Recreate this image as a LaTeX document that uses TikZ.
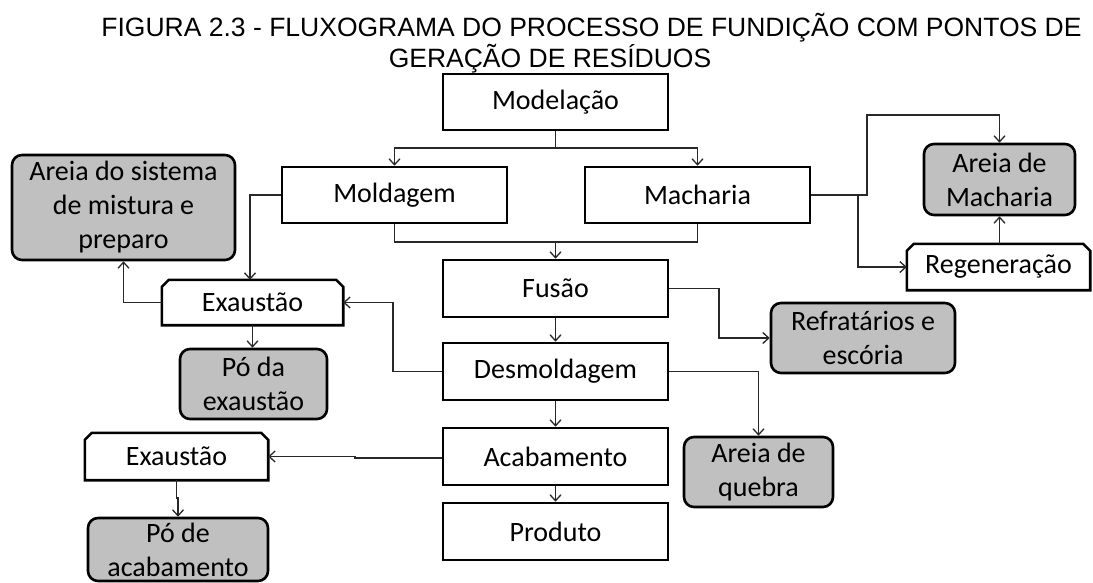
\documentclass[tikz,border=0pt]{standalone}
\usepackage{fontspec}
\setmainfont{Carlito}
\newfontfamily\titlefont{Liberation Sans}
\usetikzlibrary{arrows.meta,calc}
\definecolor{resgray}{RGB}{192,192,192}
\definecolor{linegray}{RGB}{40,40,40}
\newcommand\chamferbox[1]{%
  \draw[procline] (#1.south west) -- ([yshift=-7pt]#1.north west) -- ([xshift=7pt]#1.north west)
    -- ([xshift=-7pt]#1.north east) -- ([yshift=-7pt]#1.north east) -- (#1.south east) -- cycle;}
\begin{document}
\begin{tikzpicture}[x=1pt,y=-1pt,
  bodyfont/.style={font=\fontsize{28}{34}\selectfont},
  procline/.style={draw=black, line width=2.6pt, line join=miter},
  procbox/.style={procline, fill=white, inner sep=0pt, bodyfont, align=center},
  chamf/.style={inner sep=0pt, bodyfont, align=center},
  resbox/.style={procline, fill=resgray, rounded corners=10pt, inner sep=0pt, bodyfont, align=center},
  conn/.style={draw=linegray, line width=1.3pt},
  arr/.style={conn, -{Straight Barb[length=6pt,width=11pt]}}]
\useasboundingbox (0,0) rectangle (1093,583);

% title
\node[anchor=base, font=\titlefont\fontsize{26.5}{30}\selectfont, inner sep=0pt] (t1) at (591.5,37)
  {FIGURA 2.3 - FLUXOGRAMA DO PROCESSO DE FUNDIÇÃO COM PONTOS DE};
\node[anchor=base, font=\titlefont\fontsize{26.5}{30}\selectfont, inner sep=0pt] (t2) at (550,68)
  {GERAÇÃO DE RESÍDUOS};

% process boxes
\node[procbox, minimum width=225pt, minimum height=56pt] (mod)  at (555.5,102)   {Modelação};
\node[procbox, minimum width=225pt, minimum height=56pt] (mold) at (394.5,195)   {Moldagem};
\node[procbox, minimum width=225pt, minimum height=56pt] (mach) at (697.5,195)   {Macharia};
\node[procbox, minimum width=225pt, minimum height=57pt] (fus)  at (555.5,288.5) {Fusão};
\node[procbox, minimum width=225pt, minimum height=57pt] (desm) at (555.5,371.5) {Desmoldagem};
\node[procbox, minimum width=225pt, minimum height=57pt] (acab) at (555.5,456.5) {Acabamento};
\node[procbox, minimum width=225pt, minimum height=57pt] (prod) at (555.5,531.5) {Produto};

% chamfered boxes
\node[chamf, minimum width=181pt, minimum height=45pt] (exa1) at (252.5,302.5) {};
\chamferbox{exa1}
\node[bodyfont] at (exa1) {Exaustão};
\node[chamf, minimum width=183pt, minimum height=47pt] (exa2) at (176.5,456.5) {};
\chamferbox{exa2}
\node[bodyfont] at (exa2) {Exaustão};
\node[chamf, minimum width=183pt, minimum height=46pt] (regen) at (998.5,267) {};
\chamferbox{regen}
\node[bodyfont] at (regen) {Regeneração};

% residue boxes
\node[resbox, minimum width=223pt, minimum height=105pt] (areiasis) at (123.5,207.5)
  {Areia do sistema\\de mistura e\\preparo};
\node[resbox, minimum width=147pt, minimum height=70pt] (poexa) at (253.5,384)
  {Pó da\\exaustão};
\node[resbox, minimum width=180pt, minimum height=63pt] (poacab) at (178,549.5)
  {Pó de\\acabamento};
\node[resbox, minimum width=149pt, minimum height=70pt] (quebra) at (758.5,472)
  {Areia de\\quebra};
\node[resbox, minimum width=184pt, minimum height=70pt] (refr) at (863,338)
  {Refratários e\\escória};
\node[resbox, minimum width=151pt, minimum height=71pt] (areiamach) at (999.5,179.5)
  {Areia de\\Macharia};

% junction coordinates
\coordinate (j1) at (555.5,148);
\coordinate (j2) at (555.5,242);
\coordinate (c3) at (250,195);
\coordinate (c4) at (123.5,302.5);
\coordinate (c6) at (393,371.5);
\coordinate (c7) at (719,288.5);
\coordinate (c12a) at (355,458);
\coordinate (c12b) at (355,456.5);
\coordinate (c13a) at (176.5,498);
\coordinate (c13b) at (178,498);
\coordinate (c14a) at (867,195);
\coordinate (c14b) at (867,115);
\coordinate (c15) at (858,195);

% connectors
\draw[conn] (mod.south) -- (j1);
\draw[arr] (j1) -| (mold.north);
\draw[arr] (j1) -| (mach.north);
\draw[conn] (mold.south) |- (j2) -| (mach.south);
\draw[arr] (j2) -- (fus.north);
\draw[arr] (mold.west) -- (c3) -- (c3 |- exa1.north);
\draw[arr] (exa1.west) -- (c4) -- (areiasis.south);
\draw[arr] (exa1.south) -- (exa1.south |- poexa.north);
\draw[arr] (desm.west) -- (c6) |- (exa1.east);
\draw[arr] (fus.east) -- (c7) |- (refr.west);
\draw[arr] (fus.south) -- (desm.north);
\draw[arr] (desm.east) -| (quebra.north);
\draw[arr] (desm.south) -- (acab.north);
\draw[arr] (acab.south) -- (prod.north);
\draw[arr] ([yshift=-1.5pt]acab.west) -- (c12a) -- (c12b) -- (exa2.east);
\draw[arr] (exa2.south) -- (c13a) -- (c13b) -- (poacab.north);
\draw[arr] (mach.east) -- (c14a) -- (c14b) -| (areiamach.north);
\draw[arr] (c15) |- (regen.west);
\draw[arr] (areiamach.south |- regen.north) -- (areiamach.south);
\end{tikzpicture}
\end{document}
